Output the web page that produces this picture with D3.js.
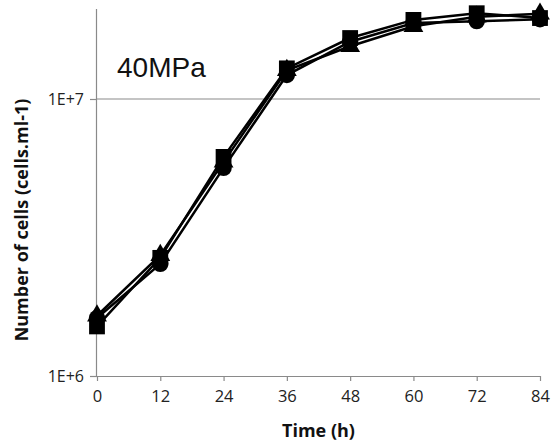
<!DOCTYPE html>
<html><head><meta charset="utf-8">
<script src="https://cdn.jsdelivr.net/npm/d3@7"></script>
<style>body{margin:0;background:#fff}svg{display:block}</style>
</head><body><svg id="c" width="556" height="444"></svg>
<script>
const times = [0, 12, 24, 36, 48, 60, 72, 84];
const squareSeries   = [1.51e6, 2.67e6, 6.18e6, 1.29e7, 1.66e7, 1.93e7, 2.04e7, 1.96e7];
const circleSeries   = [1.62e6, 2.54e6, 5.64e6, 1.22e7, 1.61e7, 1.88e7, 1.91e7, 1.94e7];
const triangleSeries = [1.65e6, 2.73e6, 5.93e6, 1.27e7, 1.55e7, 1.83e7, 1.98e7, 2.03e7];
const xTicks = [0, 12, 24, 36, 48, 60, 72, 84];
const yTicks = [1e6, 1e7];
const yTickLabels = ["1E+6", "1E+7"];
const panelLabel = "40MPa";

const svg = d3.select("#c");
const L = 97, R = 540, T = 9, B = 376;
const x = d3.scaleLinear().domain([0, 84]).range([L, R]);
const y = d3.scaleLog().domain([1e6, Math.pow(10, 7 + 90/277)]).range([B, T]);
const axisCol = "#8a8a8a";

// gridline at 1E+7
svg.append("line").attr("x1", L).attr("x2", R).attr("y1", y(1e7)).attr("y2", y(1e7))
  .attr("stroke", axisCol).attr("stroke-width", 1.2);

// y axis
const yAxis = svg.append("g").attr("transform", `translate(${L},0)`)
  .call(d3.axisLeft(y).tickValues(yTicks).tickFormat((d, i) => yTickLabels[i]).tickSize(7).tickPadding(6));
yAxis.select(".domain").attr("d", `M-0.5,${T}V${B}`).attr("stroke", axisCol).attr("stroke-width", 1.2);
yAxis.selectAll(".tick line").attr("stroke", axisCol).attr("stroke-width", 1.2);
yAxis.selectAll(".tick text").attr("font-family", "Open Sans").attr("font-size", 16).attr("fill", "#222");

// x axis
const xAxis = svg.append("g").attr("transform", `translate(0,${B})`)
  .call(d3.axisBottom(x).tickValues(xTicks).tickSize(5).tickSizeOuter(0).tickPadding(9));
xAxis.select(".domain").attr("stroke", axisCol).attr("stroke-width", 1.2);
xAxis.selectAll(".tick line").attr("stroke", axisCol).attr("stroke-width", 1.2);
xAxis.selectAll(".tick text").attr("font-family", "Open Sans").attr("font-size", 16.5).attr("fill", "#222");

// titles
svg.append("text").attr("x", (L + R) / 2).attr("y", 437).attr("text-anchor", "middle")
  .attr("font-family", "Open Sans").attr("font-weight", "bold").attr("font-size", 18).attr("fill", "#111")
  .text("Time (h)");
svg.append("text").attr("transform", "translate(28,220) rotate(-90)").attr("text-anchor", "middle")
  .attr("font-family", "Open Sans").attr("font-weight", "bold").attr("font-size", 18).attr("fill", "#111")
  .text("Number of cells (cells.ml-1)");
svg.append("text").attr("x", 117).attr("y", 77)
  .attr("font-family", "Liberation Sans, Arial").attr("font-size", 28).attr("fill", "#111")
  .text(panelLabel);

const line = d3.line().x((d, i) => x(times[i])).y(d => y(d));
const series = [
  {vals: triangleSeries, sym: d3.symbolTriangle, size: 170},
  {vals: circleSeries, sym: d3.symbolCircle, size: 210},
  {vals: squareSeries, sym: d3.symbolSquare, size: 250}
];
series.forEach(s => {
  svg.append("path").attr("d", line(s.vals)).attr("fill", "none").attr("stroke", "#000").attr("stroke-width", 2.5);
});
series.forEach(s => {
  svg.append("g").selectAll("path").data(s.vals).join("path")
    .attr("transform", (d, i) => `translate(${x(times[i])},${y(d)})`)
    .attr("d", d3.symbol().type(s.sym).size(s.size)).attr("fill", "#000");
});
</script></body></html>
